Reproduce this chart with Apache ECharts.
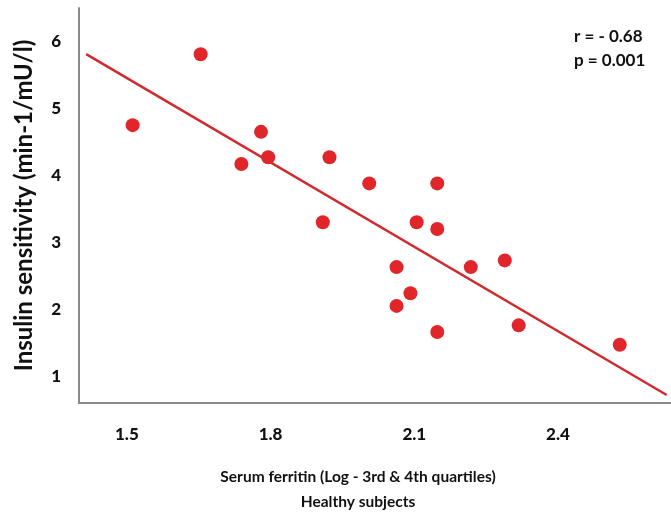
<!DOCTYPE html>
<html>
<head>
<meta charset="utf-8">
<script src="https://cdn.jsdelivr.net/npm/echarts@6/dist/echarts.min.js"></script>
<style>
html,body{margin:0;padding:0;background:#fff;}
#chart{width:671px;height:516px;}
</style>
</head>
<body>
<div id="chart"></div>
<script>
// Scatter data (serum ferritin log, insulin sensitivity)
var ferritin = [1.512, 1.654, 1.739, 1.780, 1.795, 1.923, 1.909, 2.006, 2.105, 2.148, 2.148, 2.063, 2.218, 2.289, 2.092, 2.063, 2.148, 2.318, 2.529];
var insulin  = [4.75, 5.81, 4.17, 4.65, 4.27, 4.27, 3.30, 3.88, 3.30, 3.88, 3.20, 2.63, 2.63, 2.73, 2.24, 2.05, 1.66, 1.76, 1.47];
// Regression line endpoints
var trendX = [1.415, 2.627];
var trendY = [5.81, 0.72];
// Tick labels
var xTicks = [1.5, 1.8, 2.1, 2.4];
var yTicks = [1, 2, 3, 4, 5, 6];
var statsText = ['r = - 0.68', 'p = 0.001'];
var xTitle = ['Serum ferritin (Log - 3rd & 4th quartiles)', 'Healthy subjects'];
var yTitle = 'Insulin sensitivity (min-1/mU/l)';

var pts = ferritin.map(function (x, i) { return [x, insulin[i]]; });
var line = trendX.map(function (x, i) { return [x, trendY[i]]; });

function inList(v, list) {
  for (var i = 0; i < list.length; i++) if (Math.abs(v - list[i]) < 1e-6) return true;
  return false;
}

var FONT = 'Lato';
var chart = echarts.init(document.getElementById('chart'), null, {renderer: 'canvas'});
chart.setOption({
  animation: false,
  backgroundColor: '#fff',
  grid: {left: 79, right: 0, top: 8, bottom: 113},
  xAxis: {
    type: 'value', min: 1.4, max: 2.636, interval: 0.1,
    axisLine: {show: true, lineStyle: {color: '#8a8a8a', width: 2}},
    axisTick: {show: false},
    splitLine: {show: false},
    axisLabel: {
      margin: 23, color: '#111', fontFamily: FONT, fontWeight: 900, fontSize: 17,
      showMaxLabel: false, showMinLabel: false,
      formatter: function (v) { return inList(v, xTicks) ? v.toFixed(1) : ''; }
    }
  },
  yAxis: {
    type: 'value', min: 0.6, max: 6.5, interval: 0.2,
    axisLine: {show: true, lineStyle: {color: '#8a8a8a', width: 2}},
    axisTick: {show: false},
    splitLine: {show: false},
    name: yTitle, nameLocation: 'middle', nameGap: 43, nameRotate: 90,
    nameTextStyle: {color: '#111', fontFamily: FONT, fontWeight: 'bold', fontSize: 24},
    axisLabel: {
      margin: 18, color: '#111', fontFamily: FONT, fontWeight: 900, fontSize: 17,
      showMaxLabel: false, showMinLabel: false,
      formatter: function (v) { return inList(v, yTicks) ? String(Math.round(v)) : ''; }
    }
  },
  graphic: [
    {type: 'text', left: 574, top: 28, style: {text: statsText[0], fill: '#111', font: 'bold 17px ' + FONT}},
    {type: 'text', left: 574, top: 52, style: {text: statsText[1], fill: '#111', font: 'bold 17px ' + FONT}},
    {type: 'text', x: 358, y: 477, style: {text: xTitle[0], fill: '#111', font: 'bold 15.5px ' + FONT, align: 'center', verticalAlign: 'middle'}},
    {type: 'text', x: 358, y: 502, style: {text: xTitle[1], fill: '#111', font: 'bold 15.5px ' + FONT, align: 'center', verticalAlign: 'middle'}}
  ],
  series: [
    {
      type: 'line', data: line, showSymbol: false, symbol: 'none',
      lineStyle: {color: '#cf2a2e', width: 2.5}, z: 2, silent: true
    },
    {
      type: 'scatter', data: pts, symbol: 'circle', symbolSize: 14,
      itemStyle: {color: '#e0262b', opacity: 1}, z: 3
    }
  ]
});
</script>
</body>
</html>
